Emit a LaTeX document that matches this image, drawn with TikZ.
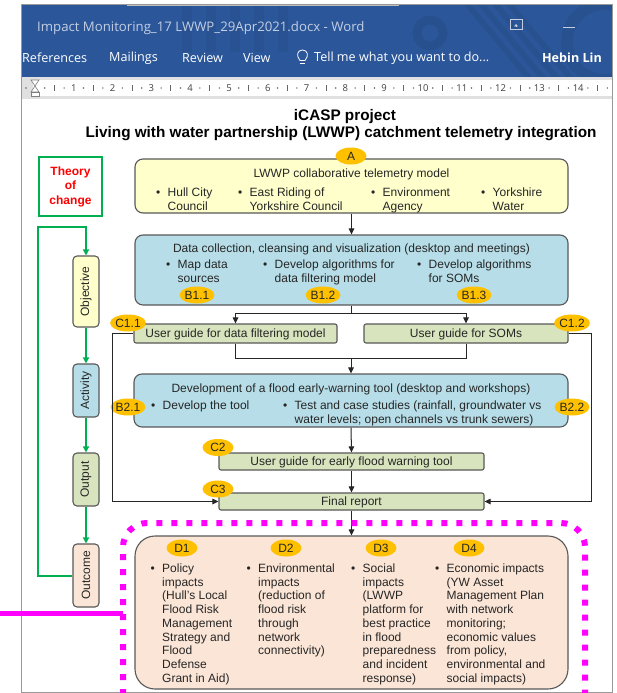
\documentclass[tikz,border=0pt]{standalone}
\usepackage{fontspec}
\setmainfont{Liberation Sans}
\newfontfamily\uifont{Open Sans}
\usetikzlibrary{arrows.meta,shapes.geometric}
\definecolor{wblue}{HTML}{2B579A}
\definecolor{tgreen}{HTML}{00B050}
\definecolor{fyel}{HTML}{FFFFCC}
\definecolor{fblue}{HTML}{B7DEE8}
\definecolor{fgreen}{HTML}{D7E4BD}
\definecolor{fpeach}{HTML}{FBE5D6}
\definecolor{orng}{HTML}{FFC000}
\definecolor{bord}{HTML}{595959}
\definecolor{txtc}{HTML}{262626}
\definecolor{mag}{HTML}{FF00FF}
\definecolor{ttlc}{HTML}{C3CEE3}
\newcommand{\fs}{\fontsize{12}{13.7}\selectfont}
\newcommand{\bitem}[1]{\begin{tabular}[t]{@{}p{11.5pt}@{}l@{}}\textbullet&#1\end{tabular}}
\begin{document}
\begin{tikzpicture}[x=1pt,y=-1pt,
  box/.style={draw=bord,line width=1.1pt},
  cbox/.style={box,fill=fgreen,rounded corners=2},
  lbl/.style={ellipse,fill=orng,minimum width=31,minimum height=17,inner sep=0pt,font=\fs,text=txtc},
  txtn/.style={inner sep=0pt,font=\fs,text=txtc},
  arr/.style={draw=black!85,line width=1pt,-{Triangle[length=6pt,width=5.5pt]}},
  lin/.style={draw=black!85,line width=1pt},
  garr/.style={draw=tgreen,line width=2pt,-{Triangle[length=6pt,width=6pt]}},
  ui/.style={inner sep=0pt,font=\uifont\fontsize{12.6}{14}\selectfont,text=white},
  vbox/.style={box,rounded corners=4,minimum width=26}]
\useasboundingbox (0,0) rectangle (617,693);
\fill[white] (0,0) rectangle (617,693);

% ---------- Word window header ----------
\fill[wblue] (21,5) rectangle (612,77);
\begin{scope}
  \clip (21,5) rectangle (612,77);
  \draw[black,opacity=0.07,line width=9pt] (430,33) circle (13);
  \foreach \i in {0,...,3}
    \fill[black,opacity=0.06] ({464+\i*14},5) -- ({472+\i*14},5) -- ({532+\i*14},77) -- ({524+\i*14},77) -- cycle;
  \draw[black,opacity=0.06,line width=12pt] (605,42) circle (38);
  \foreach \i in {0,...,4}
    \fill[black,opacity=0.05] ({182+\i*24},5) rectangle ({192+\i*24},52);
\end{scope}
\draw[black!25,line width=1.5pt] (127,5.5) -- (399,5.5);
\node[ui,anchor=west,text=ttlc,font=\uifont\fontsize{13.2}{15}\selectfont] (wtitle) at (37,28) {Impact Monitoring\_17 LWWP\_29Apr2021.docx - Word};
\node[draw=ttlc,line width=0.8pt,minimum width=12,minimum height=10,inner sep=0] (icon1) at (516,24) {};
\draw[ttlc,line width=0.8pt,-{Triangle[length=2.5pt,width=4pt]}] (icon1.south) ++(0,-2) -- (icon1.center);
\coordinate (mn1) at (563,28); \coordinate (mn2) at (575,28);
\draw[ttlc,line width=1pt] (mn1) -- (mn2);
\node[ui,anchor=west] (t1) at (22,58) {References};
\node[ui,anchor=west] (t2) at (109,58) {Mailings};
\node[ui,anchor=west] (t3) at (182,58) {Review};
\node[ui,anchor=west] (t4) at (243,58) {View};
\node[ui,anchor=west] (t5) at (314,58) {Tell me what you want to do...};
\node[ui,anchor=east,font=\uifont\bfseries\fontsize{12.6}{14}\selectfont] (t6) at (602,58) {Hebin Lin};
\draw[white,line width=0.8pt] (300,60.5) .. controls (296,56) and (297,50) .. (302.5,50) .. controls (308,50) and (309,56) .. (305,60.5) -- cycle;
\draw[white,line width=0.8pt] (300,63) -- (305,63);

% ---------- ruler ----------
\fill[black!12] (21,77) rectangle (612,99);
\fill[white] (33,80) rectangle (612,96);
\foreach \n in {1,...,14}
  \node[inner sep=0,font=\uifont\fontsize{9.5}{10}\selectfont,text=black!75] (r\n) at ({35+38.8*\n},88) {\n};
\foreach \n in {0,...,14} {
  \fill[black!60] ({35+38.8*(\n+0.25)},88) circle (0.8);
  \fill[black!60] ({35+38.8*(\n+0.75)},88) circle (0.8);
  \draw[black!60,line width=0.7pt] ({35+38.8*(\n+0.5)},85) -- ({35+38.8*(\n+0.5)},91);
}
\fill[black!60] (26,88) circle (0.8);
\draw[black!50,fill=white,line width=0.6pt] (31,80) -- (39,80) -- (35,86) -- cycle;
\draw[black!50,fill=white,line width=0.6pt] (35,86) -- (31,92) -- (39,92) -- cycle;
\draw[black!50,fill=white,line width=0.6pt] (31,92) rectangle (39,96);

% ---------- titles ----------
\node[inner sep=0,anchor=base,font=\bfseries\fontsize{15.3}{18}\selectfont] (title1) at (345,120.5) {iCASP project};
\node[inner sep=0,anchor=base,font=\bfseries\fontsize{15.3}{18}\selectfont] (title2) at (341,137.5) {Living with water partnership (LWWP) catchment telemetry integration};

% ---------- left column ----------
\node[draw=tgreen,line width=2pt,fill=white,minimum width=63,minimum height=59] (toc) at (70.5,186.5) {};
\node[inner sep=0,align=center,text=red,font=\bfseries\fontsize{12}{14.5}\selectfont] (toct) at (70.5,186.5) {Theory\\of\\change};
\node[vbox,fill=fyel,minimum height=71] (obj) at (86,291.5) {};
\node[txtn,rotate=90] (objt) at (86,291.5) {Objective};
\node[vbox,fill=fblue,minimum height=53] (act) at (86,390.5) {};
\node[txtn,rotate=90] (actt) at (86,390.5) {Activity};
\node[vbox,fill=fgreen,minimum height=53] (outp) at (86,479.5) {};
\node[txtn,rotate=90] (outpt) at (86,479.5) {Output};
\node[vbox,fill=fpeach,minimum height=63] (outc) at (86,575.5) {};
\node[txtn,rotate=90] (outct) at (86,575.5) {Outcome};
\draw[garr] (obj.south) -- (act.north);
\draw[garr] (act.south) -- (outp.north);
\draw[garr] (outp.south) -- (outc.north);
\coordinate (g1) at (38,575.5);
\coordinate (g2) at (38,227);
\coordinate (g3) at (86,227);
\draw[garr] (outc.west) -- (g1) -- (g2) -- (g3) -- (obj.north);

% ---------- box A ----------
\node[box,fill=fyel,rounded corners=8,minimum width=433,minimum height=54] (A) at (351.5,186) {};
\node[txtn,anchor=base] (At) at (351.5,177.5) {LWWP collaborative telemetry model};
\node[txtn,anchor=base west] (A1) at (156,196.5) {\bitem{Hull City\\&Council}};
\node[txtn,anchor=base west] (A2) at (238,196.5) {\bitem{East Riding of\\&Yorkshire Council}};
\node[txtn,anchor=base west] (A3) at (371,196.5) {\bitem{Environment\\&Agency}};
\node[txtn,anchor=base west] (A4) at (481,196.5) {\bitem{Yorkshire\\&Water}};
\node[lbl] (LA) at (351,156) {A};

% ---------- box B ----------
\node[box,fill=fblue,rounded corners=8,minimum width=433,minimum height=70] (B) at (351.5,270) {};
\node[txtn,anchor=base] (Bt) at (351.5,252.5) {Data collection, cleansing and visualization (desktop and meetings)};
\node[txtn,anchor=base west] (B1) at (166,268.5) {\bitem{Map data\\&sources}};
\node[txtn,anchor=base west] (B2) at (263,268.5) {\bitem{Develop algorithms for\\&data filtering model}};
\node[txtn,anchor=base west] (B3) at (417,268.5) {\bitem{Develop algorithms\\&for SOMs}};
\node[lbl] (LB11) at (197,295) {B1.1};
\node[lbl] (LB12) at (323,295) {B1.2};
\node[lbl] (LB13) at (474,295) {B1.3};

\draw[arr] (A.south) -- (B.north);

% ---------- C1 boxes ----------
\node[cbox,minimum width=203,minimum height=19] (C11) at (235.5,333.5) {};
\node[txtn] (C11t) at (235.5,334) {User guide for data filtering model};
\node[cbox,minimum width=204,minimum height=19] (C12) at (466,333.5) {};
\node[txtn] (C12t) at (466,334) {User guide for SOMs};
\node[lbl] (LC11) at (128,323) {C1.1};
\node[lbl] (LC12) at (572,323) {C1.2};

\coordinate (jB) at (351.5,313);
\draw[lin] (B.south) -- (jB);
\draw[arr] (jB) -| (C11.north);
\draw[arr] (jB) -| (C12.north);

% ---------- box B2 ----------
\node[box,fill=fblue,rounded corners=8,minimum width=434,minimum height=53] (BB) at (351,400.5) {};
\node[txtn,anchor=base] (BBt) at (351,392.5) {Development of a flood early-warning tool (desktop and workshops)};
\node[txtn,anchor=base west] (BB1) at (151,409.5) {\bitem{Develop the tool}};
\node[txtn,anchor=base west] (BB2) at (283,409.5) {\bitem{Test and case studies (rainfall, groundwater vs\\&water levels; open channels vs trunk sewers)}};
\node[lbl] (LB21) at (128,407) {B2.1};
\node[lbl] (LB22) at (572,407) {B2.2};

\coordinate (jC) at (351,358);
\draw[lin] (C11.south) |- (jC);
\draw[lin] (C12.south) |- (jC);
\draw[arr] (jC) -- (BB.north);

% ---------- C2, C3 ----------
\node[cbox,minimum width=265,minimum height=17] (C2) at (351.5,461.5) {};
\node[txtn] (C2t) at (351.5,462) {User guide for early flood warning tool};
\node[lbl] (LC2) at (218,447.5) {C2};
\node[cbox,minimum width=265,minimum height=17] (C3) at (351.5,501.5) {};
\node[txtn] (C3t) at (351.5,502) {Final report};
\node[lbl] (LC3) at (218,489) {C3};

\draw[arr] (BB.south) -- (C2.north);
\draw[arr] (C2.south) -- (C3.north);

\coordinate (sl) at (112,333.5);
\coordinate (sr) at (591,333.5);
\draw[arr] (C11.west) -- (sl) |- (C3.west);
\draw[arr] (C12.east) -- (sr) |- (C3.east);

% ---------- box D ----------
\node[box,fill=fpeach,rounded corners=20,minimum width=433,minimum height=153] (D) at (351.5,612.5) {};
\draw[arr] (C3.south) -- (D.north);
\node[lbl] (LD1) at (182,548) {D1};
\node[lbl] (LD2) at (286,548) {D2};
\node[lbl] (LD3) at (381,548) {D3};
\node[lbl] (LD4) at (469,548) {D4};
\node[txtn,anchor=base west] (D1) at (150.5,572.5) {\bitem{Policy\\&impacts\\&(Hull’s Local\\&Flood Risk\\&Management\\&Strategy and\\&Flood\\&Defense\\&Grant in Aid)}};
\node[txtn,anchor=base west] (D2) at (246.5,572.5) {\bitem{Environmental\\&impacts\\&(reduction of\\&flood risk\\&through\\&network\\&connectivity)}};
\node[txtn,anchor=base west] (D3) at (351,572.5) {\bitem{Social\\&impacts\\&(LWWP\\&platform for\\&best practice\\&in flood\\&preparedness\\&and incident\\&response)}};
\node[txtn,anchor=base west] (D4) at (435,572.5) {\bitem{Economic impacts\\&(YW Asset\\&Management Plan\\&with network\\&monitoring;\\&economic values\\&from policy,\\&environmental and\\&social impacts)}};

% ---------- window border ----------
\draw[black!40,line width=1pt] (21,5) rectangle (612,692);

% ---------- magenta highlight ----------
\coordinate (m0) at (0,613);
\coordinate (m1) at (123,613);
\draw[mag,line width=5pt] (m0) -- (m1);
\draw[mag,line width=6pt,dash pattern=on 6pt off 9pt,rounded corners=24] (123,740) -- (123,523) -- (585,523) -- (585,740);
\end{tikzpicture}
\end{document}
